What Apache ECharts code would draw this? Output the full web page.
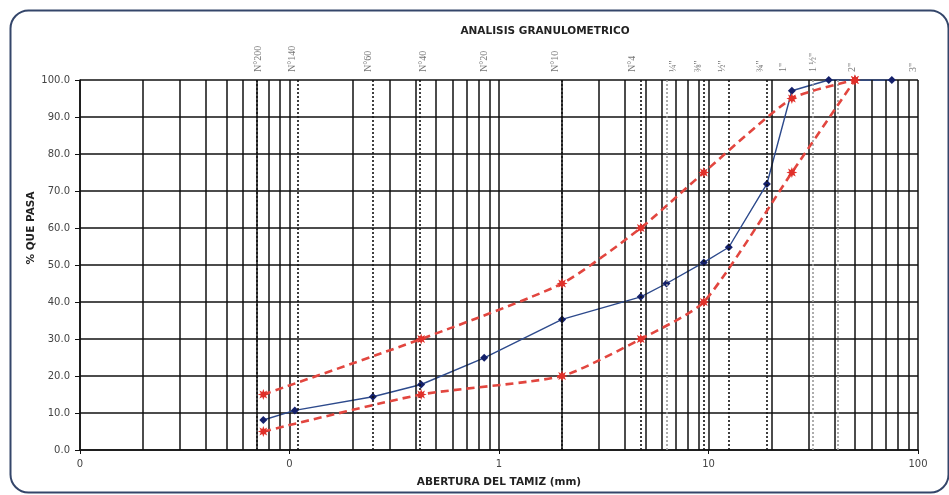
<!DOCTYPE html>
<html>
<head>
<meta charset="utf-8">
<script src="https://cdn.jsdelivr.net/npm/echarts@6/dist/echarts.min.js"></script>
<style>
  html, body { margin: 0; padding: 0; background: #ffffff; }
  #chart { width: 949px; height: 495px; }
</style>
</head>
<body>
<div id="chart"></div>
<script>
// Sieve openings (mm) and percent passing for the sample
const sampleSize = [0.075, 0.106, 0.25, 0.425, 0.85, 2.0, 4.75, 6.3, 9.5, 12.5, 19, 25, 37.5, 50, 75];
const samplePass = [8.1, 10.7, 14.4, 17.7, 24.9, 35.3, 41.4, 45.0, 50.7, 54.8, 71.9, 97.1, 100, 100, 100];

// Gradation band limits
const bandSize  = [0.075, 0.425, 2.0, 4.75, 9.5, 25, 50];
const upperPass = [15, 30, 45, 60, 75, 95, 100];
const lowerPass = [5, 15, 20, 30, 40, 75, 100];

// Sieve designations written above the grid, and where each one sits (mm)
const sieveNames  = ['N°200', 'N°140', 'N°60', 'N°40', 'N°20', 'N°10', 'N°4', '¼"', '⅜"', '½"', '¾"', '1"', '1 ½"', '2"', '3"'];
const sieveNameAt = [0.071, 0.103, 0.237, 0.434, 0.847, 1.85, 4.32, 6.78, 8.9, 11.6, 17.6, 22.7, 31.5, 48.4, 94.6];

// Dotted sieve guide lines (mm)
const darkGuides  = [0.075, 0.106, 0.25, 0.425, 2.0, 4.75, 9.5, 12.5, 19];
const lightGuides = [6.3, 31.5, 41.5];

// Axis range and y tick step
const xMin = 0.01, xMax = 100;
const yMin = 0, yMax = 100, yStep = 10;

// Intermediate log grid lines (2..9 in every decade)
const minorLines = [];
for (let d = xMin; d < xMax; d *= 10) {
  for (let k = 2; k <= 9; k++) minorLines.push(+(k * d).toPrecision(3));
}

const pairs = (xs, ys) => xs.map((x, i) => [x, ys[i]]);

const starPath = 'path://M10,0 L4.62,1.91 L7.07,7.07 L1.91,4.62 L0,10 L-1.91,4.62 L-7.07,7.07 L-4.62,1.91 L-10,0 L-4.62,-1.91 L-7.07,-7.07 L-1.91,-4.62 L0,-10 L1.91,-4.62 L7.07,-7.07 L4.62,-1.91 Z';

const vline = (v) => ({ xAxis: v });

const boldText = { fontFamily: 'DejaVu Sans', fontWeight: 'bold', fontSize: 10.5, color: '#222' };

const chart = echarts.init(document.getElementById('chart'), null, { renderer: 'canvas' });

chart.setOption({
  animation: false,
  backgroundColor: '#ffffff',
  title: {
    text: 'ANALISIS GRANULOMETRICO',
    left: 540, top: 21, textAlign: 'center',
    textStyle: boldText
  },
  graphic: [
    {
      type: 'rect', left: 8, top: 8, silent: true,
      shape: { width: 938, height: 482, r: 18 },
      style: { fill: 'none', stroke: '#34466a', lineWidth: 2 }
    },
    {
      type: 'text', x: 31, y: 228, rotation: Math.PI / 2,
      style: {
        text: '% QUE PASA', font: 'bold 10.5px "DejaVu Sans"',
        fill: '#222', textAlign: 'center', textVerticalAlign: 'middle'
      }
    }
  ],
  grid: { left: 80, right: 31, top: 80, bottom: 45, containLabel: false },
  xAxis: {
    type: 'log', logBase: 10, min: xMin, max: xMax,
    name: 'ABERTURA DEL TAMIZ (mm)', nameLocation: 'middle', nameGap: 27,
    nameTextStyle: boldText,
    axisLine: { lineStyle: { color: '#111', width: 1.5 } },
    axisTick: { show: true, length: 4, lineStyle: { color: '#111' } },
    axisLabel: {
      fontFamily: 'DejaVu Sans', fontSize: 10, color: '#444', margin: 9,
      formatter: (v) => String(Math.round(v))
    },
    splitLine: { show: true, lineStyle: { color: '#111', width: 1.5 } }
  },
  yAxis: {
    type: 'value', min: yMin, max: yMax, interval: yStep,
    axisLine: { show: true, lineStyle: { color: '#111', width: 1.5 } },
    axisTick: { show: true, length: 5, lineStyle: { color: '#111' } },
    axisLabel: {
      fontFamily: 'DejaVu Sans', fontSize: 10, color: '#444', margin: 10,
      formatter: (v) => v.toFixed(1)
    },
    splitLine: { show: true, lineStyle: { color: '#111', width: 1.5 } }
  },
  series: [
    {
      // log grid lines between the decades
      type: 'line', data: [], silent: true,
      markLine: {
        silent: true, symbol: ['none', 'none'], label: { show: false },
        lineStyle: { color: '#111', width: 1.5, type: 'solid' },
        data: minorLines.map(vline)
      }
    },
    {
      // dark dotted sieve guides
      type: 'line', data: [], silent: true,
      markLine: {
        silent: true, symbol: ['none', 'none'], label: { show: false },
        lineStyle: { color: '#111', width: 1.6, type: [2, 2] },
        data: darkGuides.map(vline)
      }
    },
    {
      // light dotted sieve guides
      type: 'line', data: [], silent: true,
      markLine: {
        silent: true, symbol: ['none', 'none'], label: { show: false },
        lineStyle: { color: '#9a9a9a', width: 1.6, type: [2, 2] },
        data: lightGuides.map(vline)
      }
    },
    {
      // sieve designations above the plot
      type: 'scatter', symbolSize: 0, silent: true, clip: false,
      data: sieveNameAt.map((x, i) => ({ value: [x, yMax], name: sieveNames[i] })),
      label: {
        show: true, formatter: '{b}', position: 'top', distance: 8,
        rotate: 90, align: 'left', verticalAlign: 'middle',
        fontFamily: 'Liberation Serif', fontSize: 10, color: '#555'
      }
    },
    {
      name: 'Muestra', type: 'line', z: 4,
      data: pairs(sampleSize, samplePass),
      symbol: 'diamond', symbolSize: 8,
      itemStyle: { color: '#14206a' },
      lineStyle: { color: '#2d4a8c', width: 1.4 }
    },
    {
      name: 'Límite superior', type: 'line', z: 5, smooth: 0.2,
      data: pairs(bandSize, upperPass),
      symbol: starPath, symbolSize: 11,
      itemStyle: { color: '#e0302a' },
      lineStyle: { color: '#e2463f', width: 2.6, type: [8, 5] }
    },
    {
      name: 'Límite inferior', type: 'line', z: 5, smooth: 0.2,
      data: pairs(bandSize, lowerPass),
      symbol: starPath, symbolSize: 11,
      itemStyle: { color: '#e0302a' },
      lineStyle: { color: '#e2463f', width: 2.6, type: [8, 5] }
    }
  ]
});
</script>
</body>
</html>
